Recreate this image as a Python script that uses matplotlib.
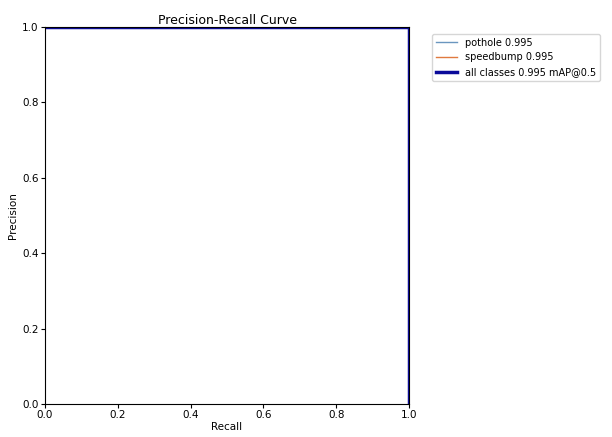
import matplotlib
matplotlib.use("Agg")
import matplotlib.pyplot as plt

# 数据
class_names = ["pothole", "speedbump"]
class_ap = [0.995, 0.995]
recall_pts = [0.0, 1.0, 1.0]
pothole_precision = [1.0, 1.0, 0.0]
speedbump_precision = [1.0, 1.0, 0.0]
mean_precision = [1.0, 1.0, 0.0]
map50 = 0.995

fig = plt.figure(figsize=(6.12, 4.37), dpi=100)
ax = fig.add_axes([0.0735, 0.0755, 0.595, 0.863])

ax.plot(recall_pts, pothole_precision, linewidth=1, color="#6a96bf",
        label=f"{class_names[0]} {class_ap[0]:.3f}")
ax.plot(recall_pts, speedbump_precision, linewidth=1, color="#e07a3f",
        label=f"{class_names[1]} {class_ap[1]:.3f}")
ax.plot(recall_pts, mean_precision, linewidth=2.5, color="#0a0a9a",
        label=f"all classes {map50:.3f} mAP@0.5")

ax.set_xlim(0, 1)
ax.set_ylim(0, 1)
ax.set_xlabel("Recall", fontsize=7.5, labelpad=1)
ax.set_ylabel("Precision", fontsize=7.5, labelpad=3)
ax.set_title("Precision-Recall Curve", fontsize=9, pad=2)
ax.tick_params(labelsize=7.5, length=3, pad=1.5)
ax.legend(bbox_to_anchor=(1.05, 0.995), loc="upper left", fontsize=7,
          frameon=True, handlelength=2.2)

fig.savefig("out.png", dpi=100)
